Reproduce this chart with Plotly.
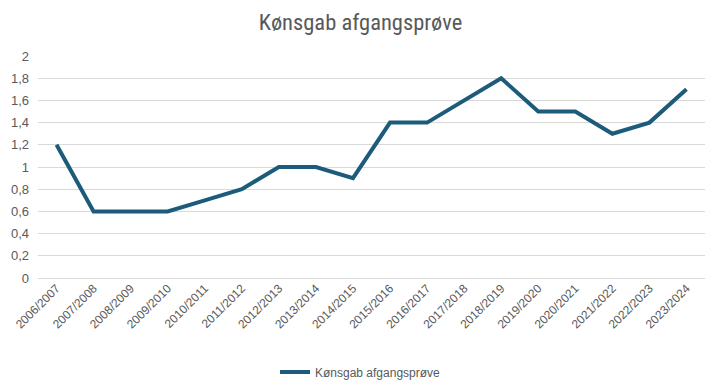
import plotly.graph_objects as go

categories = ["2006/2007", "2007/2008", "2008/2009", "2009/2010", "2010/2011", "2011/2012",
              "2012/2013", "2013/2014", "2014/2015", "2015/2016", "2016/2017", "2017/2018",
              "2018/2019", "2019/2020", "2020/2021", "2021/2022", "2022/2023", "2023/2024"]
values = [1.2, 0.6, 0.6, 0.6, 0.7, 0.8, 1.0, 1.0, 0.9, 1.4, 1.4, 1.6, 1.8, 1.5, 1.5, 1.3, 1.4, 1.7]
series_name = "Kønsgab afgangsprøve"
y_ticks = [0, 0.2, 0.4, 0.6, 0.8, 1, 1.2, 1.4, 1.6, 1.8, 2]
y_tick_labels = ["0", "0,2", "0,4", "0,6", "0,8", "1", "1,2", "1,4", "1,6", "1,8", "2"]

fig = go.Figure()
fig.add_trace(go.Scatter(x=categories, y=values, mode="lines", name=series_name,
                         line=dict(color="#1d5b7a", width=4), showlegend=True))

fig.update_layout(
    width=705, height=378,
    paper_bgcolor="white", plot_bgcolor="white",
    margin=dict(l=30, r=8, t=48, b=108, autoexpand=False),
    title=dict(text="Kønsgab afgangsprøve", x=0.5, xanchor="center", y=1 - 14 / 378, yanchor="middle",
               font=dict(family="Liberation Sans Narrow, Roboto Condensed, Arial Narrow, sans-serif",
                         size=22.5, color="#595959")),
    xaxis=dict(type="category", range=[-0.5, 17.5], tickangle=-45, showgrid=False,
               showline=False, ticks="", automargin=False,
               tickfont=dict(family="Liberation Sans, Arial, sans-serif", size=12, color="#595959")),
    yaxis=dict(range=[0, 2.0001], tickvals=y_ticks, ticktext=y_tick_labels, automargin=False,
               showgrid=True, gridcolor="#d9d9d9", gridwidth=1, zeroline=True,
               zerolinecolor="#d9d9d9", zerolinewidth=1, ticks="", ticklabelstandoff=8,
               tickfont=dict(family="Liberation Sans, Arial, sans-serif", size=13, color="#595959")),
    legend=dict(orientation="h", xref="container", x=0.5, xanchor="center",
                yref="container", y=1 - 364 / 378, yanchor="middle",
                font=dict(family="Liberation Sans, Arial, sans-serif",
                          size=12, color="#595959"), itemwidth=30),
)

fig.write_html("out.html")
